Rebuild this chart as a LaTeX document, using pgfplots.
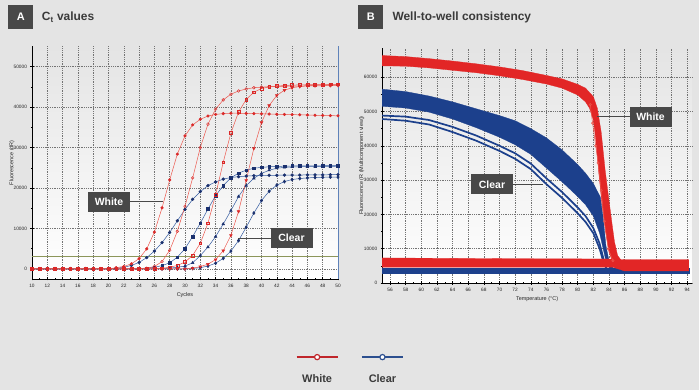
\documentclass[border=0pt]{standalone}
\usepackage{pgfplots}
\pgfplotsset{compat=1.18}
\usepackage{pgfplotstable}
\usepackage{fontspec}
\setmainfont{Liberation Sans}
\definecolor{bgc}{RGB}{228,228,228}
\definecolor{boxc}{RGB}{72,72,72}
\definecolor{hdr}{RGB}{58,58,58}
\definecolor{rl}{RGB}{236,86,76}
\definecolor{rm}{RGB}{218,40,40}
\definecolor{bl}{RGB}{50,90,160}
\definecolor{bm}{RGB}{26,48,110}
\definecolor{thr}{RGB}{140,150,90}
\definecolor{spineb}{RGB}{95,130,185}
\definecolor{bandr}{RGB}{226,38,38}
\definecolor{bandb}{RGB}{28,64,140}
\definecolor{legr}{RGB}{192,38,43}
\definecolor{legb}{RGB}{44,79,143}
\def\mylegtext{}
\tikzset{legtext/.store in=\mylegtext}

\pgfplotstableread{
c R1 R2 R3 R4 B1 B2 B3 B4
10 0 0 0 0 0 0 0 0
11 0 0 0 0 0 0 0 0
12 0 0 0 0 0 0 0 0
13 0 0 0 0 0 0 0 0
14 0 0 0 0 0 0 0 0
15 0 0 0 0 0 0 0 0
16 0 0 0 0 0 0 0 0
17 0 0 0 0 0 0 0 0
18 0 0 0 0 0 0 0 0
19 0 0 0 0 0 0 0 0
20 0 0 0 0 50 0 0 0
21 300 0 0 0 150 0 0 0
22 600 0 0 0 400 0 0 0
23 1250 0 0 0 850 0 0 0
24 2550 0 0 0 1600 100 0 0
25 4950 150 0 0 2800 200 0 0
26 9100 600 0 0 4400 400 0 0
27 15100 1800 150 0 6500 800 100 0
28 22000 4600 420 0 9000 1500 200 0
29 28400 9300 850 0 11900 2900 400 0
30 32900 15500 1700 0 14700 5000 700 0
31 35600 22500 3330 150 17200 8000 1500 100
32 37000 30000 6330 570 19100 11300 3300 300
33 37800 35800 11300 1160 20600 14800 5400 700
34 38200 39500 18300 2300 21500 18100 8000 1400
35 38400 41800 26400 4500 22200 20600 11100 2600
36 38500 43200 33600 8300 22600 22500 14400 4400
37 38500 44000 38800 14200 22800 23700 17900 7000
38 38450 44500 41900 21900 22950 24400 20600 10300
39 38400 44800 43700 29800 23050 24900 22400 13800
40 38350 44950 44600 36200 23100 25100 23600 16900
41 38300 45050 45000 40400 23150 25250 24400 19200
42 38250 45100 45200 42900 23150 25350 24900 20700
43 38200 45150 45350 44200 23200 25400 25100 21600
44 38150 45200 45450 44800 23200 25450 25200 22100
45 38100 45200 45500 45100 23200 25450 25250 22350
46 38050 45250 45550 45300 23250 25500 25300 22500
47 38000 45250 45600 45400 23250 25500 25300 22600
48 37950 45300 45600 45450 23250 25500 25350 22650
49 37900 45300 45650 45500 23300 25550 25350 22700
50 37850 45300 45650 45500 23300 25550 25400 22700
}\cycdata

\pgfplotsset{
  common/.style={
    scale only axis, anchor=south west,
    axis x line*=bottom, axis y line*=left,
    axis line style={-, black, line width=0.6bp},
    minor x tick num=1, minor y tick num=1,
    tick align=center, major tick length=3bp, minor tick length=2bp,
    tick style={black, line width=0.45bp},
    grid=major, grid style={line width=0.45bp, black!55, dash pattern=on 0.5bp off 1.3bp},
    tick label style={font=\fontsize{4.8}{5}\selectfont, text=black!85},
    /pgf/number format/assume math mode=true,
    scaled y ticks=false,
    yticklabel style={/pgf/number format/.cd, fixed, set thousands separator={}},
    label style={font=\fontsize{5.5}{6}\selectfont, text=black!85},
    axis background/.style={shade, top color=bgc, middle color=white, bottom color=white},
    clip=false,
  },
}

\begin{document}
\begin{tikzpicture}
\fill[bgc] (0bp,0bp) rectangle (699bp,390bp);
\useasboundingbox (0bp,0bp) rectangle (699bp,390bp);

% headers
\fill[boxc] (8.3bp,360.7bp) rectangle (33.3bp,385bp);
\node[text=white, font=\fontsize{11}{12}\selectfont\bfseries] at (20.8bp,372.8bp) {A};
\node[anchor=west, text=hdr, font=\fontsize{12}{13}\selectfont\bfseries, inner sep=0pt] at (41.7bp,373bp) {C\textsubscript{t} values};
\fill[boxc] (358.3bp,360.7bp) rectangle (383.3bp,385bp);
\node[text=white, font=\fontsize{11}{12}\selectfont\bfseries] at (370.8bp,372.8bp) {B};
\node[anchor=west, text=hdr, font=\fontsize{12}{13}\selectfont\bfseries, inner sep=0pt] at (392.3bp,373bp) {Well-to-well consistency};

% ---------------- left plot
\begin{axis}[common,
  at={(32bp,111bp)}, width=306bp, height=232.5bp,
  xmin=10, xmax=50, ymin=-2500, ymax=55000,
  xtick={10,12,...,50}, ytick={0,10000,...,50000},
  xlabel={Cycles}, ylabel={Fluorescence (dR)},
  xlabel style={at={([yshift=-16bp]axis description cs:0.5,0)}, anchor=center},
  ylabel style={at={([xshift=-20bp]axis description cs:0,0.5)}, anchor=center},
]
\draw[spineb, line width=0.9bp] (rel axis cs:1,0) -- (rel axis cs:1,1);
\addplot[thr, line width=0.8bp] coordinates {(10,3000) (50,3000)};
\addplot[bl, line width=0.5bp, mark=*, mark size=1.4bp, mark options={bm, fill=bm}] table[x=c, y=B1] {\cycdata};
\addplot[bl, line width=0.5bp, mark=square*, mark size=1.3bp, mark options={bm, fill=bm}] table[x=c, y=B2] {\cycdata};
\addplot[bl, line width=0.5bp, mark=triangle*, mark size=1.5bp, mark options={bm, fill=bm}] table[x=c, y=B3] {\cycdata};
\addplot[bl, line width=0.5bp, mark=diamond*, mark size=1.6bp, mark options={bm, fill=bm}] table[x=c, y=B4] {\cycdata};
\addplot[rl, line width=0.5bp, mark=*, mark size=1.3bp, mark options={rm, fill=rm}] table[x=c, y=R1] {\cycdata};
\addplot[rl, line width=0.5bp, mark=o, mark size=1.4bp, mark options={rm, fill=white, line width=0.4bp}] table[x=c, y=R2] {\cycdata};
\addplot[rl, line width=0.5bp, mark=square, mark size=1.4bp, mark options={rm, fill=white, line width=0.45bp}] table[x=c, y=R3] {\cycdata};
\addplot[rl, line width=0.5bp, mark=triangle*, mark size=1.6bp, mark options={rm, fill=rm, rotate=180}] table[x=c, y=R4] {\cycdata};
\end{axis}

% ---------------- right plot
\begin{axis}[common,
  at={(382.2bp,107bp)}, width=309.7bp, height=235bp,
  xmin=55, xmax=94.6, ymin=0, ymax=68500,
  xtick={56,58,...,94}, ytick={0,10000,...,60000},
  xlabel={Temperature (°C)}, ylabel={Fluorescence (R (Multicomponent view))},
  xlabel style={at={([yshift=-16bp]axis description cs:0.5,0)}, anchor=center},
  ylabel style={at={([xshift=-20.5bp]axis description cs:0,0.5)}, anchor=center},
  legend image code/.code={
    \begin{scope}[#1]
    \draw[#1, mark repeat=2, mark phase=2] plot coordinates {(0bp,0bp) (20.5bp,0bp) (41bp,0bp)};
    \node[text=hdr, font=\fontsize{11}{12}\selectfont\bfseries, inner sep=0pt] at (20.5bp,-22bp) {\mylegtext};
    \end{scope}},
  legend style={at={(axis description cs:-0.2783,-0.3043)}, anchor=north west, draw=none, fill=none,
    inner sep=0pt, outer sep=0pt, legend columns=2, nodes={inner sep=0pt},
    /tikz/every even column/.append style={column sep=22bp}},
]
% clear: low band
\addplot[fill=bandb, draw=bandb, line width=0.3bp, forget plot] coordinates {(55,4400) (94.2,4400) (94.2,2800) (55,2800)} -- cycle;
% clear: main band
\addplot[fill=bandb, draw=bandb, line width=0.3bp, forget plot] coordinates {
(55,56500) (58,55800) (61,54500) (64,52800) (67,50800) (70,48800) (72,47300) (74,45000) (76,42300) (78,38800) (80,34500) (81,32000) (82,29000) (82.9,25000) (83.3,18000) (83.6,11000) (84.0,6500) (84.5,4500)
(84.2,4000) (83.7,5500) (83.3,9500) (82.8,14500) (82,19500) (81,22800) (80,25200) (78,29500) (76,33500) (74,37500) (72,40300) (70,42500) (67,45300) (64,47800) (61,49800) (58,51000) (55,51500)} -- cycle;
% clear: separate wells
\addplot[bandb, line width=1.7bp, forget plot] coordinates {(55,48800) (58,48500) (61,47500) (64,45500) (67,43000) (70,40000) (72,37800) (74,34800) (76,30500) (78,26500) (80,22000) (81,19500) (82,16000) (82.8,11500) (83.3,7000) (83.7,4500)};
\addplot[bandb, line width=1.7bp, forget plot] coordinates {(55,47800) (58,47300) (61,46200) (64,44000) (67,41500) (70,38500) (72,36200) (74,33200) (76,28800) (78,24800) (80,20300) (81,17800) (82,14500) (82.8,10000) (83.3,6000) (83.7,4000)};
% white: low band
\addplot[fill=bandr, draw=bandr, line width=0.3bp, forget plot] coordinates {(55,7300) (70,7100) (84,7000) (86,6800) (94.2,6800) (94.2,3500) (86,3500) (84.5,4600) (55,4600)} -- cycle;
% white: main band
\addplot[fill=bandr, draw=bandr, line width=0.3bp, forget plot] coordinates {
(55,66300) (58,66000) (61,65400) (64,64700) (67,63900) (70,63000) (73,61900) (76,60500) (78,59500) (80,57900) (81,56800) (82,54300) (82.5,51000) (83.0,44000) (83.5,33000) (84.0,24000) (84.4,17000) (84.7,12000) (85.1,8000) (85.5,6800)
(85.0,5500) (84.4,6500) (84.0,9000) (83.6,14500) (83.1,23000) (82.7,32000) (82.3,42000) (82.0,47500) (81.5,51000) (81,52800) (80,54800) (78,56800) (76,58000) (73,59300) (70,60400) (67,61300) (64,62000) (61,62700) (58,63200) (55,63300)} -- cycle;
\addplot[rl, line width=0.5bp, mark=o, mark size=1.2bp, mark options={fill=white}, forget plot] coordinates {(81.6,52000) (81.9,46600) (82.3,40000) (82.6,35000) (83.0,27000) (83.4,18000) (83.9,10000) (84.5,6500)};

\addlegendimage{draw=legr, color=legr, line width=1.3bp, mark=*, mark size=2.6bp, mark options={draw=legr, fill=white, line width=1.2bp}, legtext=White}
\addlegendentry{}
\addlegendimage{draw=legb, color=legb, line width=1.3bp, mark=*, mark size=2.6bp, mark options={draw=legb, fill=white, line width=1.2bp}, legtext=Clear}
\addlegendentry{}
\end{axis}

% annotation boxes
\tikzset{lab/.style={fill=boxc, text=white, font=\fontsize{10.5}{11}\selectfont\bfseries, minimum width=42bp, minimum height=20bp, inner sep=0pt}}
\draw[boxc, line width=0.8bp] (130bp,188.3bp) -- (163bp,188.3bp);
\node[lab] at (109bp,188bp) {White};
\draw[boxc, line width=0.8bp] (238.3bp,151.7bp) -- (271.5bp,151.7bp);
\node[lab] at (291.5bp,152bp) {Clear};
\draw[boxc, line width=0.8bp] (597bp,273.3bp) -- (630bp,273.3bp);
\node[lab] at (650.5bp,273bp) {White};
\draw[boxc, line width=0.8bp] (513bp,206bp) -- (543bp,206bp);
\node[lab] at (492bp,205.5bp) {Clear};
\end{tikzpicture}
\end{document}
